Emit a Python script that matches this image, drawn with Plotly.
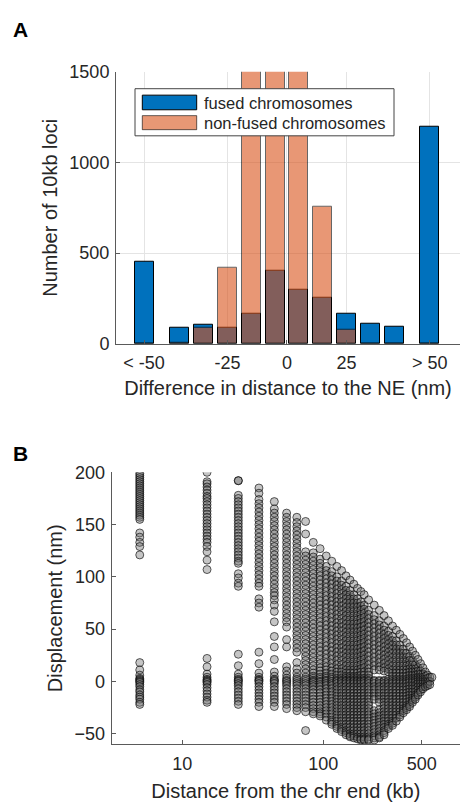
import plotly.graph_objects as go

# ---------------- Panel A: histogram of the NE distance difference ----------------
bin_centers = [-60, -45, -35, -25, -15, -5, 5, 15, 25, 35, 45, 60]
fused_counts = [450, 88, 107, 88, 168, 401, 296, 254, 165, 111, 93, 1195]
nonfused_counts = [0, 9, 89, 419, 2150, 2900, 2250, 758, 79, 0, 0, 0]
a_tick_vals = [-60, -25, 0, 25, 60]
a_tick_text = ["< -50", "-25", "0", "25", "> 50"]
a_y_ticks = [0, 500, 1000, 1500]
series_names = ["fused chromosomes", "non-fused chromosomes"]

# ---------------- Panel B: displacement vs distance from the chromosome end --------
dist_kb = [5, 15, 25, 35, 45, 55, 65, 75, 85, 95, 105, 115, 125, 135, 145, 155, 165,
           175, 185, 195, 210, 230, 250, 270, 290, 310, 330, 350, 370, 390, 410, 430,
           450, 470, 490, 510, 530, 550, 570, 590]

disp_5 = [199, 197, 195, 193, 191, 189, 187, 185, 183, 181, 179, 177, 175, 173, 171, 169, 167,
          165, 163, 161, 159, 157, 155, 142, 138, 133, 129, 121, 18, 11, 6, 3, 2, 1, 0, -1, -3,
          -5, -8, -10, -13, -15, -17, -20, -22]
disp_15 = [200, 191, 189, 186, 183, 180, 177, 175, 172, 169, 166, 163, 160, 157, 154, 151, 148,
           145, 142, 139, 136, 133, 129, 124, 116, 107, 22, 14, 7, 4, 2, 1, 0, -1, -3, -6, -9,
           -12, -15, -18, -20]
disp_25 = [192, 192, 178, 175, 172, 169, 166, 163, 160, 157, 154, 151, 148, 145, 142, 139, 136,
           133, 130, 127, 124, 121, 118, 115, 113, 103, 99, 94, 91, 26, 15, 7, 4, 2, 1, 0, -2,
           -4, -7, -10, -13, -16, -19, -22]
disp_35 = [185, 180, 174, 170, 166, 162, 158, 154, 150, 146, 142, 138, 134, 130, 126, 122, 118,
           114, 110, 106, 102, 98, 94, 91, 79, 75, 71, 28, 17, 8, 4, 2, 1, 0, -2, -5, -8, -11,
           -14, -17, -20, -24]
disp_45 = [172, 165, 161, 157, 153, 149, 145, 141, 137, 133, 129, 125, 121, 117, 113, 109, 105,
           101, 97, 93, 89, 85, 82, 78, 73, 67, 57, 43, 33, 21, 9, 5, 2, 1, 0, -2, -5, -8, -11,
           -14, -17, -20, -24]
disp_55 = [161, 157, 153, 149, 145, 141, 137, 133, 129, 125, 121, 117, 113, 109, 105, 101, 97,
           93, 89, 85, 81, 77, 73, 69, 65, 61, 57, 52, 40, 33, 14, 10, 6, 3, 1, 0, -2, -4, -7,
           -10, -13, -16, -19, -22, -26]
disp_65 = [157, 152, 148, 144, 140, 136, 132, 128, 124, 120, 116, 112, 108, 104, 100, 96, 92,
           88, 84, 80, 76, 72, 68, 64, 60, 56, 52, 48, 44, 40, 36, 32, 28, 18, 12, 8, 4, 2, 0,
           -2, -4, -7, -10, -13, -16, -19, -22, -25, -28]
disp_75 = [153, 141, 124, 120, 116, 112, 108, 104, 100, 96, 92, 88, 84, 80, 76, 72, 68, 64, 60,
           56, 52, 48, 44, 40, 36, 32, 28, 24, 20, 16, 12, 8, 4, 2, 0, -2, -4, -7, -10, -13,
           -16, -19, -22, -25, -29, -47]
disp_85 = [133, 123, 119, 115, 111, 107, 103, 99, 95, 91, 87, 83, 79, 75, 71, 67, 63, 59, 55,
           51, 47, 43, 39, 35, 31, 27, 23, 19, 15, 11, 8, 5, 3, 1, 0, -1, -3, -5, -8, -11, -14,
           -17, -20, -23, -26, -29, -31]
disp_95 = [127, 117, 113, 109, 105, 101, 97, 93, 89, 85, 81, 77, 73, 69, 65, 61, 57, 53, 49,
           45, 41, 37, 33, 29, 25, 21, 17, 13, 10, 7, 4, 2, 0, -1, -3, -5, -8, -11, -14, -17,
           -20, -23, -26, -29, -31, -33]
disp_105 = [120, 110, 106, 102, 98, 94, 90, 86, 82, 78, 74, 70, 66, 62, 58, 54, 50, 46, 42, 38,
            34, 30, 26, 22, 18, 14, 11, 8, 5, 3, 1, 0, -2, -4, -7, -10, -13, -16, -19, -22,
            -25, -28, -31, -34, -37]
disp_115 = [115, 105, 101, 97, 93, 89, 85, 81, 77, 73, 69, 65, 61, 57, 53, 49, 45, 41, 37, 33,
            29, 25, 21, 17, 13, 10, 7, 4, 2, 0, -2, -4, -7, -10, -13, -16, -19, -22, -25, -28,
            -31, -34, -37, -39, -41]
disp_125 = [110, 100, 96, 92, 88, 84, 80, 76, 72, 68, 64, 60, 56, 52, 48, 44, 40, 36, 32, 28,
            24, 20, 16, 12, 9, 6, 3, 1, 0, -2, -5, -8, -11, -14, -17, -20, -23, -26, -29, -32,
            -35, -38, -41, -43, -45]
disp_135 = [106, 96, 92, 88, 84, 80, 76, 72, 68, 64, 60, 56, 52, 48, 44, 40, 36, 32, 28, 24,
            20, 16, 12, 9, 6, 3, 1, 0, -2, -5, -8, -11, -14, -17, -20, -23, -26, -29, -32, -35,
            -38, -41, -44, -46, -48]
disp_145 = [101, 91, 87, 83, 79, 75, 71, 67, 63, 59, 55, 51, 47, 43, 39, 35, 31, 27, 23, 19,
            15, 11, 8, 5, 3, 1, 0, -2, -5, -8, -11, -14, -17, -20, -23, -26, -29, -32, -35, -38,
            -41, -44, -47, -49, -51]
disp_155 = [97, 87, 83, 79, 75, 71, 67, 63, 59, 55, 51, 47, 43, 39, 35, 31, 27, 23, 19, 15, 11,
            8, 5, 3, 1, 0, -2, -5, -8, -11, -14, -17, -20, -23, -26, -29, -32, -35, -38, -41,
            -44, -47, -50, -52, -53]
disp_165 = [93, 83, 79, 75, 71, 67, 63, 59, 55, 51, 47, 43, 39, 35, 31, 27, 23, 19, 15, 11, 8,
            5, 3, 1, 0, -2, -5, -8, -11, -14, -17, -20, -23, -26, -29, -32, -35, -38, -41, -44,
            -47, -50, -52, -54]
disp_175 = [89, 79, 75, 71, 67, 63, 59, 55, 51, 47, 43, 39, 35, 31, 27, 23, 19, 15, 11, 8, 5,
            3, 1, 0, -2, -5, -8, -11, -14, -17, -20, -23, -26, -29, -32, -35, -38, -41, -44,
            -47, -50, -53, -55]
disp_185 = [86, 76, 72, 68, 64, 60, 56, 52, 48, 44, 40, 36, 32, 28, 24, 20, 16, 12, 9, 6, 3, 1,
            0, -2, -5, -8, -11, -14, -17, -20, -23, -26, -29, -32, -35, -38, -41, -44, -47, -50,
            -53, -55, -56]
disp_195 = [83, 73, 69, 65, 61, 57, 53, 49, 45, 41, 37, 33, 29, 25, 21, 17, 13, 9, 6, 3, 1, 0,
            -2, -5, -8, -11, -14, -17, -20, -23, -26, -29, -32, -35, -38, -41, -44, -47, -50,
            -53, -55, -56]
disp_210 = [78, 68, 64, 60, 56, 52, 48, 44, 40, 36, 32, 28, 24, 20, 16, 12, 9, 6, 3, 1, 0, -2,
            -5, -8, -11, -14, -17, -20, -23, -26, -29, -32, -35, -38, -41, -44, -47, -50, -53,
            -55, -56]
disp_230 = [73, 63, 59, 55, 51, 47, 43, 39, 35, 31, 27, 23, 19, 15, 11, 1, 0, -2, -5, -8, -11,
            -14, -17, -28, -31, -34, -37, -40, -43, -46, -49, -52, -54, -56]
disp_250 = [68, 58, 54, 50, 46, 42, 38, 34, 30, 26, 22, 18, 14, 11, 1, 0, -2, -5, -8, -11, -14,
            -17, -20, -27, -30, -33, -36, -39, -42, -45, -48, -51, -53, -54]
disp_270 = [63, 53, 49, 45, 41, 37, 33, 29, 25, 21, 17, 13, 10, 1, 0, -2, -5, -8, -11, -14, -17,
            -20, -23, -26, -29, -32, -35, -38, -41, -44, -47, -49, -51]
disp_290 = [58, 48, 44, 40, 36, 32, 28, 24, 20, 16, 12, 9, 2, 0, -2, -5, -8, -11, -14, -17, -20,
            -23, -26, -29, -32, -35, -38, -41, -43, -45]
disp_310 = [53, 43, 39, 35, 31, 27, 23, 19, 15, 11, 8, 5, 2, 0, -2, -5, -8, -11, -14, -17, -20,
            -23, -26, -29, -32, -35, -38, -40, -42]
disp_330 = [49, 39, 35, 31, 27, 23, 19, 15, 11, 8, 5, 2, 0, -2, -5, -8, -11, -14, -17, -20,
            -23, -26, -29, -32, -35, -38]
disp_350 = [45, 35, 31, 27, 23, 19, 15, 11, 8, 5, 2, 0, -2, -5, -8, -11, -14, -17, -20, -23,
            -26, -29, -32, -34]
disp_370 = [41, 31, 27, 23, 19, 15, 11, 8, 5, 2, 0, -2, -5, -8, -11, -14, -17, -20, -23, -26,
            -28, -30]
disp_390 = [37, 27, 23, 19, 15, 11, 8, 5, 2, 0, -2, -5, -8, -11, -14, -17, -20, -23, -25, -27]
disp_410 = [33, 24, 20, 16, 12, 9, 6, 3, 1, -1, -4, -7, -10, -13, -16, -19, -22, -24]
disp_430 = [29, 20, 16, 12, 9, 6, 3, 1, -1, -4, -7, -10, -13, -16, -18, -20]
disp_450 = [25, 16, 12, 9, 6, 3, 1, -1, -4, -7, -10, -13, -15, -17]
disp_470 = [21, 13, 10, 7, 4, 2, 0, -2, -5, -8, -11, -13]
disp_490 = [17, 10, 7, 4, 2, 0, -2, -5, -8, -10]
disp_510 = [13, 7, 4, 2, 0, -2, -5, -7]
disp_530 = [9, 5, 2, 0, -2, -5]
disp_550 = [6, 3, 0, -2, -4]
disp_570 = [4, 0, -3]
disp_590 = [4]

disp_columns = [disp_5, disp_15, disp_25, disp_35, disp_45, disp_55, disp_65, disp_75,
                disp_85, disp_95, disp_105, disp_115, disp_125, disp_135, disp_145, disp_155,
                disp_165, disp_175, disp_185, disp_195, disp_210, disp_230, disp_250, disp_270,
                disp_290, disp_310, disp_330, disp_350, disp_370, disp_390, disp_410, disp_430,
                disp_450, disp_470, disp_490, disp_510, disp_530, disp_550, disp_570, disp_590]
b_x_ticks = [10, 100, 500]
b_y_ticks = [-50, 0, 50, 100, 150, 200]

# flatten the per-distance columns into point lists
scatter_x, scatter_y = [], []
for d, ys in zip(dist_kb, disp_columns):
    scatter_x.extend([d] * len(ys))
    scatter_y.extend(ys)

FONT = "Liberation Sans, Arial, Helvetica, sans-serif"
TXT = "#262626"
AXIS = "#5a5a5a"
W, H = 460, 812

fig = go.Figure()

fig.add_trace(go.Bar(
    x=bin_centers, y=fused_counts, width=8, name=series_names[0],
    marker=dict(color="#0072BD", line=dict(color="#000000", width=1)),
    xaxis="x", yaxis="y", showlegend=False,
))
fig.add_trace(go.Bar(
    x=bin_centers, y=nonfused_counts, width=8, name=series_names[1], opacity=0.6,
    marker=dict(color="#D95319", line=dict(color="#000000", width=1)),
    xaxis="x", yaxis="y", showlegend=False,
))

fig.add_trace(go.Scatter(
    x=scatter_x, y=scatter_y, mode="markers",
    marker=dict(size=8, color="rgba(110,110,110,0.40)",
                line=dict(color="rgba(0,0,0,0.62)", width=1)),
    xaxis="x2", yaxis="y2", showlegend=False,
))

# pixel -> paper helpers for layout placement
def px(x):
    return x / W

def py(y):
    return 1 - y / H

tick_font = dict(family=FONT, size=18, color=TXT)
title_font = dict(family=FONT, size=20, color=TXT)

fig.update_layout(
    width=W, height=H,
    margin=dict(l=0, r=0, t=0, b=0),
    paper_bgcolor="white", plot_bgcolor="white",
    barmode="overlay", bargap=0,
    font=dict(family=FONT, color=TXT),
    xaxis=dict(
        domain=[px(116), 1.0], anchor="y", range=[-71.8, 72.7],
        tickmode="array", tickvals=a_tick_vals, ticktext=a_tick_text,
        tickfont=tick_font, ticks="inside", ticklen=4, tickcolor=AXIS, ticklabelstandoff=3,
        showline=True, linecolor=AXIS, linewidth=1,
        showgrid=True, gridcolor="#e4e4e4", gridwidth=1, zeroline=False,
        title=dict(text="Difference in distance to the NE (nm)", font=title_font, standoff=8),
    ),
    yaxis=dict(
        domain=[py(342.3), py(63.3)], anchor="x", range=[0, 1500],
        tickmode="array", tickvals=a_y_ticks,
        tickfont=tick_font, ticks="inside", ticklen=4, tickcolor=AXIS, ticklabelstandoff=2,
        showline=True, linecolor=AXIS, linewidth=1,
        showgrid=True, gridcolor="#e4e4e4", gridwidth=1, zeroline=False,
        title=dict(text="Number of 10kb loci", font=title_font, standoff=6),
    ),
    xaxis2=dict(
        domain=[px(111.7), 1.0], anchor="y2", type="log", range=[0.5, 2.97],
        tickmode="array", tickvals=b_x_ticks, ticktext=[str(v) for v in b_x_ticks],
        tickfont=tick_font, ticks="inside", ticklen=4, tickcolor=AXIS, ticklabelstandoff=3,
        showline=True, linecolor=AXIS, linewidth=1,
        showgrid=False, zeroline=False,
        title=dict(text="Distance from the chr end (kb)", font=title_font, standoff=11),
    ),
    yaxis2=dict(
        domain=[py(752.7), py(474)], anchor="x2", range=[-60, 200],
        tickmode="array", tickvals=b_y_ticks,
        tickfont=tick_font, ticks="inside", ticklen=4, tickcolor=AXIS, ticklabelstandoff=2,
        showline=True, linecolor=AXIS, linewidth=1,
        showgrid=False, zeroline=False,
        title=dict(text="Displacement (nm)", font=title_font, standoff=6),
    ),
)

# legend box for panel A with wide colour swatches
shapes = [
    dict(type="rect", xref="paper", yref="paper", x0=px(135), x1=px(394), y0=py(129), y1=py(80.7),
         fillcolor="white", line=dict(color="#444444", width=1), layer="above"),
    dict(type="rect", xref="paper", yref="paper", x0=px(142.3), x1=px(196.7), y0=py(102.3), y1=py(87.3),
         fillcolor="#0072BD", line=dict(color="#000000", width=1), layer="above"),
    dict(type="rect", xref="paper", yref="paper", x0=px(142.3), x1=px(196.7), y0=py(122.7), y1=py(108.3),
         fillcolor="rgba(217,83,25,0.6)", line=dict(color="rgba(0,0,0,0.6)", width=1), layer="above"),
]
legend_font = dict(family=FONT, size=16.5, color=TXT)
annotations = [
    dict(text=series_names[0], xref="paper", yref="paper", x=px(202), y=py(95.5),
         xanchor="left", yanchor="middle", showarrow=False, font=legend_font),
    dict(text=series_names[1], xref="paper", yref="paper", x=px(202), y=py(115.5),
         xanchor="left", yanchor="middle", showarrow=False, font=legend_font),
    dict(text="<b>A</b>", xref="paper", yref="paper", x=px(11), y=py(20.5),
         xanchor="left", yanchor="middle", showarrow=False,
         font=dict(family=FONT, size=21, color="#000000")),
    dict(text="<b>B</b>", xref="paper", yref="paper", x=px(11), y=py(454.5),
         xanchor="left", yanchor="middle", showarrow=False,
         font=dict(family=FONT, size=21, color="#000000")),
]
fig.update_layout(shapes=shapes, annotations=annotations)

fig.write_html("out.html")
